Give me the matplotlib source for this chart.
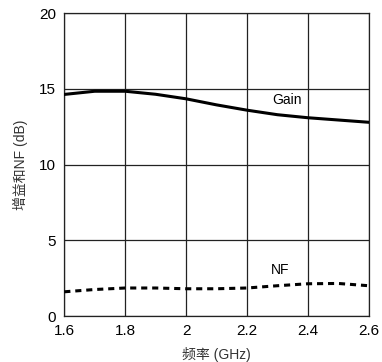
import matplotlib.pyplot as plt

plt.rcParams['font.family'] = ['Liberation Sans', 'Noto Sans CJK SC', 'DejaVu Sans']

# 频率 (GHz)
freq = [1.6, 1.7, 1.8, 1.9, 2.0, 2.1, 2.2, 2.3, 2.4, 2.5, 2.6]
gain = [14.64, 14.85, 14.85, 14.65, 14.35, 13.95, 13.6, 13.3, 13.1, 12.95, 12.8]
nf = [1.6, 1.75, 1.85, 1.85, 1.8, 1.8, 1.85, 2.0, 2.13, 2.15, 2.0]

xticks = [1.6, 1.8, 2.0, 2.2, 2.4, 2.6]
xticklabels = ['1.6', '1.8', '2', '2.2', '2.4', '2.6']
yticks = [0, 5, 10, 15, 20]

fig = plt.figure(figsize=(3.82, 3.62), dpi=100)
ax = fig.add_axes([64.3 / 382, 1 - 316 / 362, 304.4 / 382, 302.7 / 362])

ax.plot(freq, gain, color='black', linewidth=2.2, zorder=3)
ax.plot(freq, nf, color='black', linewidth=2.2, linestyle=(0, (2, 1.6)), zorder=3)

ax.text(2.33, 14.25, 'Gain', fontsize=10, ha='center', va='center')
ax.text(2.31, 3.05, 'NF', fontsize=10, ha='center', va='center')

ax.set_xlim(1.6, 2.6)
ax.set_ylim(0, 20)
ax.set_xticks(xticks)
ax.set_xticklabels(xticklabels)
ax.set_yticks(yticks)
ax.tick_params(length=0, labelsize=11, pad=6)
ax.grid(True, color='#222222', linewidth=0.9)
for s in ax.spines.values():
    s.set_linewidth(0.9)
    s.set_color('#222222')

ax.set_xlabel('频率 (GHz)', fontsize=10, labelpad=6, color='#333333')
ax.set_ylabel('增益和NF (dB)', fontsize=10, labelpad=8, color='#333333')

fig.savefig('out.png', dpi=100)
